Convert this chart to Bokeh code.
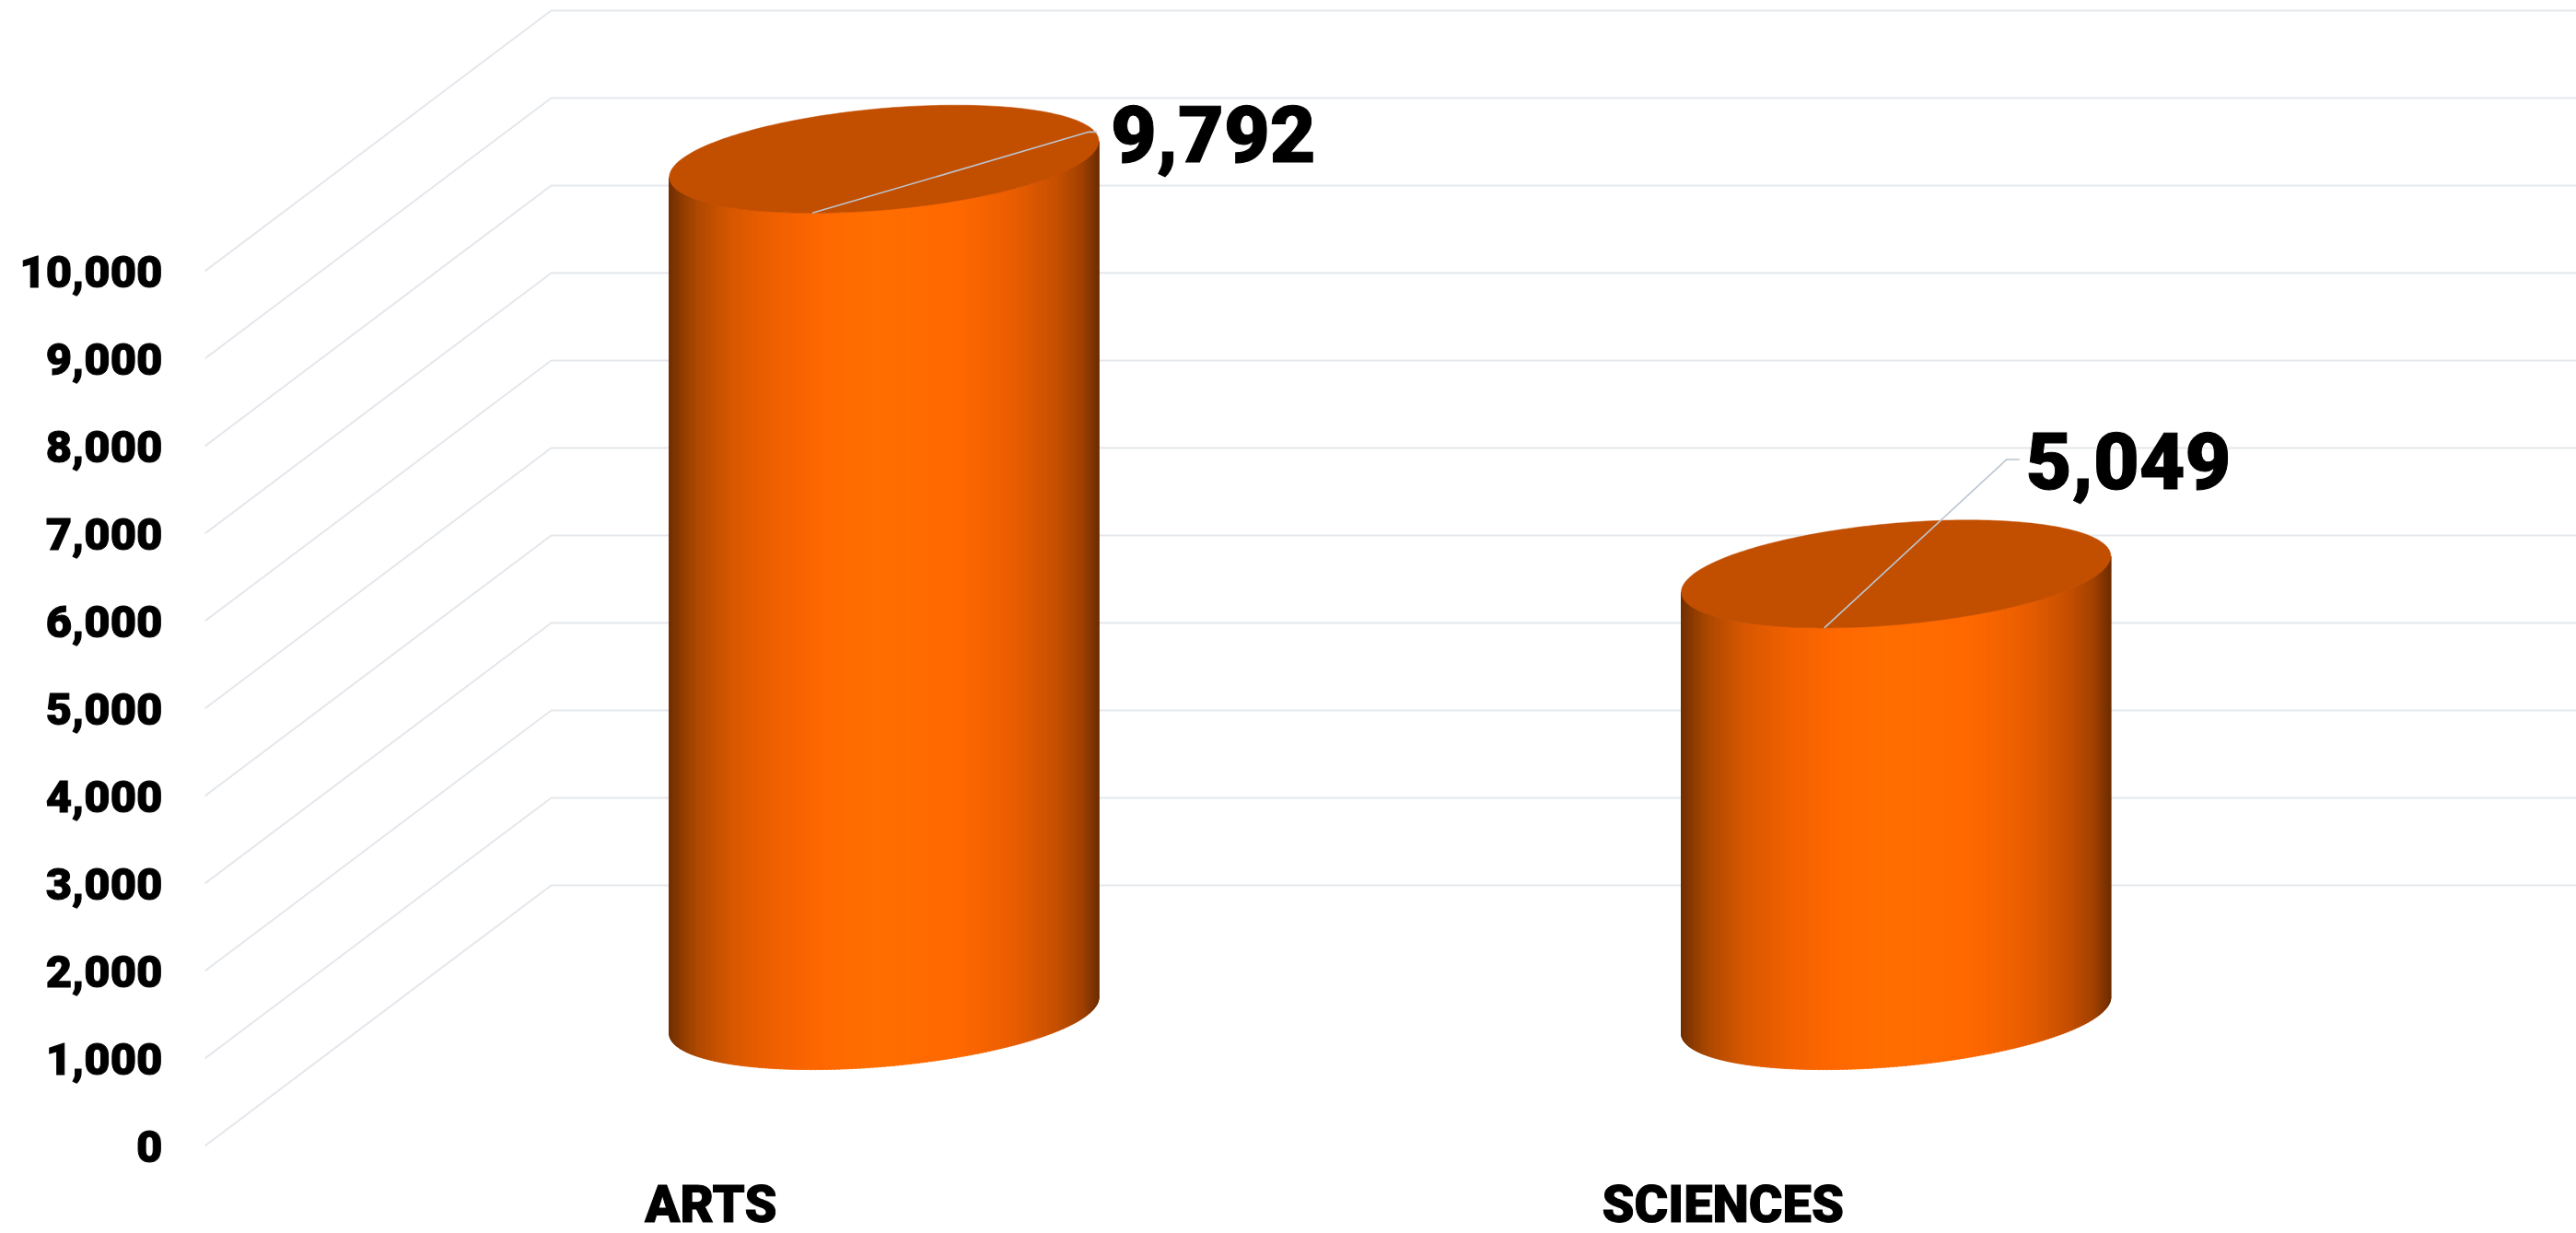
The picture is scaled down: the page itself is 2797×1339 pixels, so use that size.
import numpy as np
from bokeh.core.properties import value
from bokeh.embed import file_html
from bokeh.models import FixedTicker, LinearAxis, NumeralTickFormatter, Range1d
from bokeh.plotting import figure
from bokeh.resources import INLINE

categories = ["ARTS", "SCIENCES"]
values = [9792, 5049]
y_ticks = [0, 1000, 2000, 3000, 4000, 5000, 6000, 7000, 8000, 9000, 10000]

FONT = "Roboto Black, Arial Black, DejaVu Sans"
GRID = "#e4e7eb"
CAP = "#c24e00"
LEADER = "#bcc5d0"
STOPS = [(0.0, "#702e00"), (0.03, "#8f3c00"), (0.07, "#b04a00"), (0.15, "#d85800"), (0.25, "#f06000"),
         (0.36, "#ff6800"), (0.48, "#ff6e00"), (0.68, "#ff6800"), (0.8, "#ea5e00"), (0.9, "#c85000"),
         (0.96, "#a34200"), (1.0, "#702e00")]

W, H = 2797, 1339
LEFT, BOTTOM = 222, 95
X_PER_CAT = 1098.8          # px per category slot
Y_PER_VAL = 0.0950          # px per value unit
DEPTH_X = 376 / X_PER_CAT   # depth of the floor in x units
DEPTH_Y = 283 / Y_PER_VAL   # depth of the floor in value units
RX = 0.2                    # cylinder radius across, in x units
RD = 0.207                  # cylinder radius in depth, as a share of the floor depth

p = figure(width=W, height=H, output_backend="svg", toolbar_location=None,
           x_range=Range1d(0, (W - LEFT) / X_PER_CAT),
           y_range=Range1d(-BOTTOM / Y_PER_VAL, (H - BOTTOM) / Y_PER_VAL),
           min_border_left=LEFT, min_border_bottom=0, min_border_top=0, min_border_right=0,
           x_axis_type=None, y_axis_type=None, outline_line_color=None, background_fill_color="white")
p.xgrid.visible = False
p.ygrid.visible = False

xr_end = p.x_range.end
p.multi_line(xs=[[0, DEPTH_X, xr_end] for _ in y_ticks],
             ys=[[v, v + DEPTH_Y, v + DEPTH_Y] for v in y_ticks],
             line_color=GRID, line_width=2)


def hex_mix(f):
    xs = [s[0] for s in STOPS]
    rgb = [[int(s[1][i:i + 2], 16) for s in STOPS] for i in (1, 3, 5)]
    return "#%02x%02x%02x" % tuple(int(round(np.interp(f, xs, c))) for c in rgb)


def ring(cx, cy, t):
    x = cx + RX * np.cos(t) + RD * DEPTH_X * np.sin(t)
    y = cy + RD * DEPTH_Y * np.sin(t)
    return x, y


t0 = np.arctan2(RD * DEPTH_X, RX)
ts = np.linspace(t0 - np.pi, t0, 161)
xs_side, ys_side, fills = [], [], []
caps_x, caps_y = [], []
for i, v in enumerate(values):
    cx = i + 0.5 + DEPTH_X / 2
    cy = DEPTH_Y / 2
    full = np.linspace(0, 2 * np.pi, 241)
    xmin, xmax = ring(cx, cy, ts[0])[0], ring(cx, cy, ts[-1])[0]
    for a, b in zip(ts[:-1], ts[1:]):
        tt = np.array([a, b + 0.012 if b < ts[-1] else b])
        bx, by = ring(cx, cy, tt)
        ux, uy = ring(cx, cy + v, tt)
        xs_side.append([bx[0], bx[1], ux[1], ux[0]])
        ys_side.append([by[0], by[1], uy[1], uy[0]])
        fills.append(hex_mix((0.5 * (bx[0] + bx[1]) - xmin) / (xmax - xmin)))
    ux, uy = ring(cx, cy + v, full)
    caps_x.append(list(ux))
    caps_y.append(list(uy))

p.patches(xs=xs_side, ys=ys_side, fill_color=fills, line_color=fills, line_width=0.6)
p.patches(xs=caps_x, ys=caps_y, fill_color=CAP, line_color=CAP, line_width=0.5)

lead = [(300, 88, 309, 15), (198, 183, 212, 7)]   # px: elbow dx, elbow dy, end dx, gap to text
lx, ly, tx, ty, tt = [], [], [], [], []
for i, v in enumerate(values):
    cx = i + 0.5 + DEPTH_X / 2
    ax, ay = ring(cx, DEPTH_Y / 2 + v, -np.pi / 2)
    ex, ey, endx = lead[i][0] / X_PER_CAT, lead[i][1] / Y_PER_VAL, lead[i][2] / X_PER_CAT
    lx.append([ax, ax + ex, ax + endx])
    ly.append([ay, ay + ey, ay + ey])
    tx.append(ax + endx + lead[i][3] / X_PER_CAT)
    ty.append(ay + ey - 2 / Y_PER_VAL)
    tt.append(f"{v:,}")
p.multi_line(xs=lx, ys=ly, line_color=LEADER, line_width=1.6)
p.text(x=tx, y=ty, text=tt, text_font=value(FONT), text_font_size="86px", text_color="black",
       text_outline_color="black", text_align="left", text_baseline="middle")

yaxis = LinearAxis(ticker=FixedTicker(ticks=y_ticks), formatter=NumeralTickFormatter(format="0,0"))
yaxis.axis_line_color = None
yaxis.major_tick_line_color = None
yaxis.minor_tick_line_color = None
yaxis.major_label_standoff = 40
yaxis.major_label_text_font = FONT
yaxis.major_label_text_font_size = "49px"
yaxis.major_label_text_color = "black"
yaxis.major_label_text_outline_color = "black"
p.add_layout(yaxis, "left")

# category labels under the front edge of the floor
p.text(x=[i + 0.5 for i in range(len(categories))], y=[-63 / Y_PER_VAL] * len(categories), text=categories,
       text_font=value(FONT), text_font_size="56px", text_color="black", text_outline_color="black",
       text_align="center", text_baseline="middle")

open("out.html", "w").write(file_html(p, INLINE))
